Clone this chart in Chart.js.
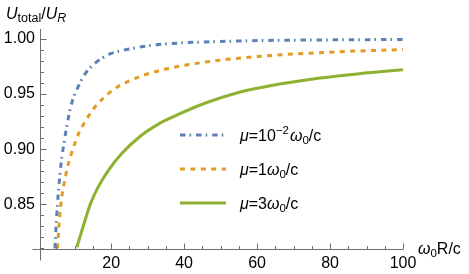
<!DOCTYPE html>
<html>
<head>
<meta charset="utf-8">
<script src="https://cdn.jsdelivr.net/npm/chart.js@4.4.0/dist/chart.umd.min.js"></script>
<style>
  html, body { margin: 0; padding: 0; background: #fff; }
</style>
</head>
<body>
<canvas id="chart" width="469" height="274"></canvas>
<script>
// values
var blueX = [4.6, 5, 5.5, 6, 6.5, 7.1, 7.67, 9, 10.6, 12.7, 15.6, 19.7, 22.3, 26.5, 32.5, 40, 50, 62.6, 75, 88, 100];
var blueY = [0.810, 0.835, 0.860, 0.878, 0.893, 0.906, 0.9175, 0.9394, 0.954, 0.9675, 0.978, 0.9864, 0.9889, 0.9918, 0.9948, 0.9965, 0.9977, 0.9986, 0.9990, 0.9993, 0.9995];

var orangeX = [5.3, 5.6, 6, 6.4, 7, 8, 9, 10, 11, 12.5, 13.8, 15.5, 17.4, 19.5, 21.7, 25, 29, 35, 40, 50, 60, 70, 80, 90, 100];
var orangeY = [0.810, 0.826, 0.842, 0.855, 0.867, 0.883, 0.895, 0.905, 0.9136, 0.923, 0.930, 0.938, 0.9448, 0.951, 0.9564, 0.962, 0.9672, 0.9727, 0.976, 0.9808, 0.984, 0.9863, 0.988, 0.9893, 0.9903];

var greenX = [10.6, 12.9, 14.4, 16.5, 19.3, 22.9, 27.9, 33.4, 36.2, 45.3, 54.4, 63.6, 77.3, 88, 100];
var greenY = [0.811, 0.836, 0.851, 0.866, 0.881, 0.896, 0.9115, 0.9236, 0.9282, 0.9412, 0.951, 0.9575, 0.9645, 0.9685, 0.972];

var xTicks = [20, 40, 60, 80, 100];
var yTicks = [0.85, 0.90, 0.95, 1.00];
var xMinor = [5, 10, 15, 25, 30, 35, 45, 50, 55, 65, 70, 75, 85, 90, 95];
var yMinor = [0.81, 0.82, 0.83, 0.84, 0.86, 0.87, 0.88, 0.89, 0.91, 0.92, 0.93, 0.94, 0.96, 0.97, 0.98, 0.99];

// legend labels: [mu value, superscript]
var seriesLabels = [['10', '\u22122'], ['1', ''], ['3', '']];

var colors = ['#5E81B5', '#E19C24', '#8FB131'];
var dashes = [[5.5, 4, 1.6, 5], [5, 5.4], []];
var FONT = '"Liberation Sans", Arial, sans-serif';
var AXIS = '#6f6f6f';

function pts(xs, ys) {
    return xs.map(function (x, i) { return { x: x, y: ys[i] }; });
}

// draw a run of text pieces, each with its own size / style / offset
function rich(ctx, x, y, parts) {
    parts.forEach(function (p) {
        ctx.font = (p.it ? 'italic ' : '') + (p.s || 16) + 'px ' + FONT;
        ctx.fillText(p.t, x, y + (p.dy || 0));
        x += ctx.measureText(p.t).width + (p.gap || 0);
    });
    return x;
}

var decor = {
    id: 'decor',
    afterDraw: function (chart) {
        var ctx = chart.ctx;
        var xs = chart.scales.x, ys = chart.scales.y;
        var a = chart.chartArea;
        var x0 = Math.round(xs.getPixelForValue(xs.min)) + 0.5;
        var y0 = Math.round(ys.getPixelForValue(ys.min)) + 0.5;

        ctx.save();
        ctx.strokeStyle = AXIS;
        ctx.lineWidth = 1;
        ctx.beginPath();
        ctx.moveTo(x0 - 8, y0); ctx.lineTo(a.right, y0);
        ctx.moveTo(x0, a.top); ctx.lineTo(x0, y0 + 11);
        xTicks.forEach(function (v) {
            var px = Math.round(xs.getPixelForValue(v)) + 0.5;
            ctx.moveTo(px, y0); ctx.lineTo(px, y0 - 6);
        });
        xMinor.forEach(function (v) {
            var px = Math.round(xs.getPixelForValue(v)) + 0.5;
            ctx.moveTo(px, y0); ctx.lineTo(px, y0 - 3.5);
        });
        yTicks.forEach(function (v) {
            var py = Math.round(ys.getPixelForValue(v)) + 0.5;
            ctx.moveTo(x0, py); ctx.lineTo(x0 + 6, py);
        });
        yMinor.forEach(function (v) {
            var py = Math.round(ys.getPixelForValue(v)) + 0.5;
            ctx.moveTo(x0, py); ctx.lineTo(x0 + 3.5, py);
        });
        ctx.stroke();

        ctx.fillStyle = '#000';
        ctx.textBaseline = 'alphabetic';
        // axis titles
        rich(ctx, 6, 19, [
            { t: 'U', it: true },
            { t: 'total', s: 12.5, dy: 3 },
            { t: '/' },
            { t: 'U', it: true },
            { t: 'R', it: true, s: 12.5, dy: 3 }
        ]);
        rich(ctx, 418, 254, [
            { t: '\u03c9', it: true },
            { t: '0', s: 11.5, dy: 3 },
            { t: 'R/c' }
        ]);

        // legend
        var rowY = [135, 169, 203];
        seriesLabels.forEach(function (lab, i) {
            var y = rowY[i];
            ctx.strokeStyle = colors[i];
            ctx.lineWidth = 3;
            ctx.lineCap = 'butt';
            ctx.setLineDash(dashes[i]);
            ctx.beginPath();
            ctx.moveTo(180, y); ctx.lineTo(226, y);
            ctx.stroke();
            ctx.setLineDash([]);
            var parts = [{ t: '\u03bc', it: true }, { t: '=' + lab[0] }];
            if (lab[1]) parts.push({ t: lab[1], s: 11.5, dy: -7, gap: 1 });
            parts.push({ t: '\u03c9', it: true }, { t: '0', s: 11.5, dy: 3 }, { t: '/c' });
            rich(ctx, 240, y + 6, parts);
        });
        ctx.restore();
    }
};

var ctx = document.getElementById('chart').getContext('2d');

var myChart = new Chart(ctx, {
    type: 'line',
    data: {
        datasets: [
            { data: pts(blueX, blueY), borderColor: colors[0], borderDash: dashes[0] },
            { data: pts(orangeX, orangeY), borderColor: colors[1], borderDash: dashes[1] },
            { data: pts(greenX, greenY), borderColor: colors[2], borderDash: dashes[2] }
        ]
    },
    options: {
        responsive: false,
        animation: false,
        layout: { padding: { top: 29, right: 66, bottom: 0, left: 0 } },
        elements: {
            point: { radius: 0 },
            line: { borderWidth: 3, cubicInterpolationMode: 'monotone', borderCapStyle: 'butt', fill: false }
        },
        plugins: { legend: { display: false }, tooltip: { enabled: false } },
        scales: {
            x: {
                type: 'linear',
                min: 0.5,
                max: 100,
                afterBuildTicks: function (s) { s.ticks = xTicks.map(function (v) { return { value: v }; }); },
                afterFit: function (s) { s.height = 25; },
                grid: { display: false, drawTicks: false },
                border: { display: false },
                ticks: { color: '#000', padding: 5, maxRotation: 0, autoSkip: false, font: { family: FONT, size: 16 } }
            },
            y: {
                min: 0.8094,
                max: 1.009,
                afterBuildTicks: function (s) { s.ticks = yTicks.map(function (v) { return { value: v }; }); },
                afterFit: function (s) { s.width = 40; },
                grid: { display: false, drawTicks: false },
                border: { display: false },
                ticks: {
                    color: '#000', padding: 5, font: { family: FONT, size: 16 },
                    callback: function (v) { return v.toFixed(2); }
                }
            }
        }
    },
    plugins: [decor]
});
</script>
</body>
</html>
